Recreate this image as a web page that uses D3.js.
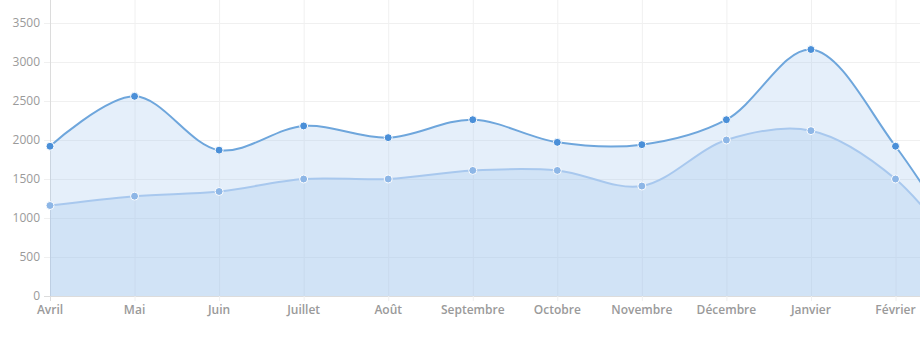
<!DOCTYPE html>
<html>
<head>
<meta charset="utf-8">
<title></title>
<script src="https://d3js.org/d3.v7.min.js"></script>
<style>
body { margin: 0; background: #fff; }
#chart { width: 920px; height: 337px; overflow: hidden; }
text { font-family: "Open Sans", sans-serif; }
</style>
</head>
<body>
<div id="chart"></div>
<script type="text/javascript">
var months = ["Avril", "Mai", "Juin", "Juillet", "Août", "Septembre", "Octobre", "Novembre", "Décembre", "Janvier", "Février", "Mars"];
var seriesDark = [1920, 2560, 1870, 2180, 2030, 2260, 1970, 1940, 2260, 3160, 1920, 250];
var seriesLight = [1160, 1280, 1340, 1500, 1500, 1610, 1610, 1410, 2000, 2120, 1500, 200];
var yTicks = [0, 500, 1000, 1500, 2000, 2500, 3000, 3500];

var width = 920, height = 337;
var left = 50, bottom = 296;

var svg = d3.select("#chart")
  .append("svg")
    .attr("width", width)
    .attr("height", height);

var x = d3.scalePoint()
    .domain(months)
    .range([left, left + 11 * 84.55]);

var y = d3.scaleLinear()
    .domain([0, 3795])
    .range([bottom, 0]);

// grid
svg.append("g")
  .selectAll("line")
  .data(yTicks)
  .enter().append("line")
    .attr("x1", left - 6).attr("x2", width)
    .attr("y1", function(d) { return y(d) + 0.5; })
    .attr("y2", function(d) { return y(d) + 0.5; })
    .attr("stroke", function(d) { return d === 0 ? "#dcdcdc" : "#f0f0f0"; });

svg.append("g")
  .selectAll("line")
  .data(months)
  .enter().append("line")
    .attr("x1", function(d) { return x(d) + 0.5; })
    .attr("x2", function(d) { return x(d) + 0.5; })
    .attr("y1", 0).attr("y2", bottom + 5)
    .attr("stroke", function(d, i) { return i === 0 ? "#dcdcdc" : "#f0f0f0"; });

var curve = d3.curveCatmullRom.alpha(0.5);

var area = function(vals) {
  return d3.area()
    .x(function(d, i) { return x(months[i]); })
    .y0(y(0))
    .y1(function(d) { return y(d); })
    .curve(curve)(vals);
};
var line = function(vals) {
  return d3.line()
    .x(function(d, i) { return x(months[i]); })
    .y(function(d) { return y(d); })
    .curve(curve)(vals);
};

svg.append("path").attr("d", area(seriesDark)).attr("fill", "rgba(151,190,235,0.25)");
svg.append("path").attr("d", area(seriesLight)).attr("fill", "rgba(151,190,235,0.25)");

svg.append("path").attr("d", line(seriesLight))
  .attr("fill", "none").attr("stroke", "#a8c8ee").attr("stroke-width", 2);
svg.append("path").attr("d", line(seriesDark))
  .attr("fill", "none").attr("stroke", "#6ea6dc").attr("stroke-width", 2);

svg.append("g").selectAll("circle")
  .data(seriesLight)
  .enter().append("circle")
    .attr("cx", function(d, i) { return x(months[i]); })
    .attr("cy", function(d) { return y(d); })
    .attr("r", 4)
    .attr("fill", "#8db6e6").attr("stroke", "#fff").attr("stroke-width", 1);

svg.append("g").selectAll("circle")
  .data(seriesDark)
  .enter().append("circle")
    .attr("cx", function(d, i) { return x(months[i]); })
    .attr("cy", function(d) { return y(d); })
    .attr("r", 4)
    .attr("fill", "#4a8fd8").attr("stroke", "#fff").attr("stroke-width", 1);

// axis labels
svg.append("g")
  .selectAll("text")
  .data(yTicks)
  .enter().append("text")
    .attr("x", 40)
    .attr("y", function(d) { return y(d); })
    .attr("dy", "0.35em")
    .attr("text-anchor", "end")
    .attr("font-size", 12)
    .attr("fill", "#9a9a9a")
    .text(function(d) { return d; });

svg.append("g")
  .selectAll("text")
  .data(months.slice(0, 11))
  .enter().append("text")
    .attr("x", function(d) { return x(d); })
    .attr("y", 310)
    .attr("dy", "0.35em")
    .attr("text-anchor", "middle")
    .attr("font-size", 12)
    .attr("font-weight", 600)
    .attr("fill", "#9a9a9a")
    .text(function(d) { return d; });
</script>
</body>
</html>
